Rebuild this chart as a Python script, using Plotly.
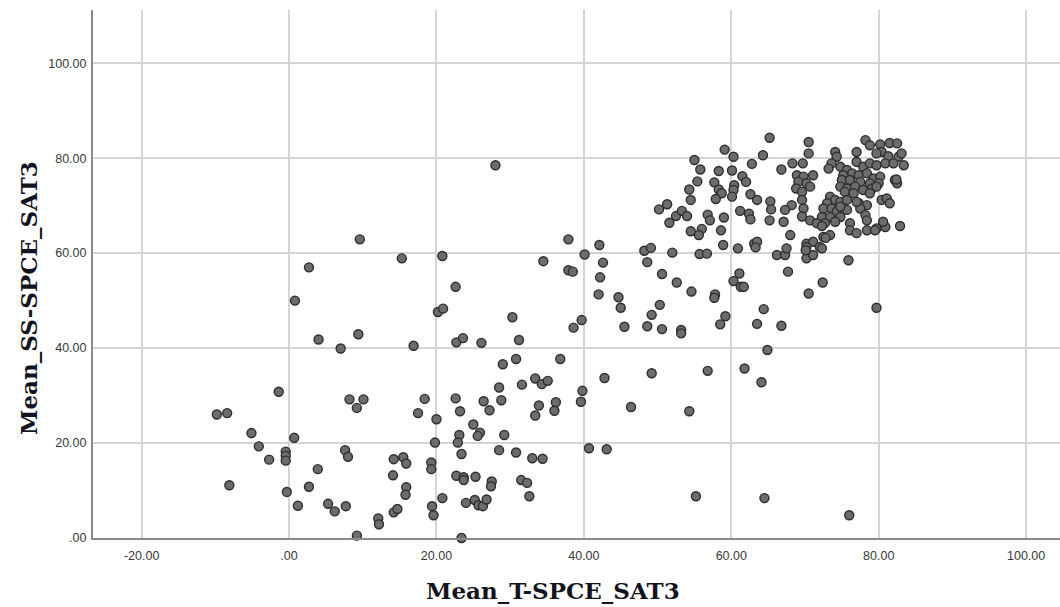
import plotly.graph_objects as go

# Each point: (Mean_T-SPCE_SAT3, Mean_SS-SPCE_SAT3), grouped by region of the chart
pts_left = [(-9.8,26.0),(-8.4,26.3),(-8.1,11.1),(-5.1,22.1),(-4.1,19.3),(-2.7,16.5),(-1.4,30.8),
            (-0.45,18.2),(-0.45,17.3),(-0.45,16.3),(-0.3,9.7),(0.7,21.1),(1.2,6.8),(2.7,10.8),(3.9,14.5),
            (5.3,7.2),(6.2,5.6),(7.7,6.7),(7.6,18.5),(8.0,17.1),(8.2,29.2),(10.1,29.2),(9.2,27.4),(7.0,39.9),
            (12.1,4.1),(12.2,2.9),(9.2,0.5),(0.8,50.0),(2.7,57.0),(4.0,41.8),(9.4,42.9),(9.6,62.9)]

pts_mid = [(14.2,16.6),(15.5,17.0),(15.9,15.7),(14.1,13.2),(15.9,10.7),(15.8,9.1),(14.2,5.4),(14.7,6.1),
           (19.3,15.9),(19.3,14.5),(19.4,6.7),(19.6,4.8),(20.8,8.4),(22.7,13.1),(23.7,12.8),(23.7,12.2),
           (24.0,7.4),(25.2,8.0),(25.7,6.9),(26.3,6.7),(26.8,8.1),(25.3,12.9),(23.4,0.0),(27.5,11.9),
           (27.4,10.9),(31.5,12.2),(32.3,11.6),(32.6,8.8),
           (18.4,29.3),(17.5,26.3),(22.6,29.4),(23.2,26.7),(20.0,25.0),(19.8,20.1),(23.1,21.7),(22.9,20.1),
           (23.4,17.7),(25.0,23.9),(25.9,22.2),(25.6,21.5),(29.2,21.7),(28.5,18.5),(30.8,18.0),(33.0,16.8),
           (34.4,16.7),(26.4,28.8),(27.2,26.9),(28.8,29.0),(28.5,31.7),(31.6,32.3),(33.4,33.6),(34.3,32.4),
           (35.1,33.1),(33.9,27.9),(33.4,25.8),(36.2,28.6),(36.0,26.8),(29.0,36.6),(30.8,37.7),(36.8,37.7),
           (31.2,41.7),(30.3,46.5),
           (15.3,58.9),(20.8,59.4),(22.6,52.9),(20.2,47.6),(20.9,48.3),(16.9,40.5),(22.7,41.2),(23.6,42.1),
           (26.1,41.1),(28.0,78.5),(34.5,58.3)]

pts_midright = [(37.9,62.9),(37.9,56.4),(38.5,56.1),(40.1,59.7),(42.1,61.7),(42.6,58.0),(42.2,54.9),
                (42.0,51.3),(44.7,50.7),(45.0,48.5),(45.5,44.5),(38.6,44.3),(39.7,45.9),(42.8,33.7),
                (39.8,31.0),(39.6,28.7),(40.7,18.9),(43.1,18.7),(46.4,27.6),(49.2,34.7),(54.3,26.7),(55.2,8.8),
                (48.2,60.5),(49.1,61.1),(48.6,58.1),(52.0,60.1),(50.6,55.6),(52.6,53.8),(54.6,51.9),
                (50.3,49.1),(49.2,47.0),(48.6,44.6),(50.6,44.0),(53.2,43.8),(53.2,43.1)]

pts_right_low = [(57.8,51.3),(57.7,50.6),(59.2,46.7),(58.5,45.0),(64.4,48.2),(63.5,45.1),(66.8,44.7),
                 (79.7,48.5),(64.9,39.6),(56.8,35.2),(61.8,35.7),(64.1,32.8),(64.5,8.4),(76.0,4.8),
                 (60.3,54.1),(61.1,55.7),(61.3,52.9),(61.7,52.9),(70.5,51.5),(72.4,53.8),(67.7,56.1)]

pts_upper = [(65.2,84.3),(59.1,81.8),(60.3,80.3),(64.3,80.6),(62.8,78.8),(55.0,79.6),(55.8,77.6),
             (58.3,77.3),(60.1,77.4),(61.5,76.2),(62.0,75.0),(55.4,75.1),(57.7,74.9),(58.3,73.4),
             (58.7,72.6),(57.9,71.4),(60.4,74.3),(60.3,73.3),(60.1,71.9),(54.3,73.4),(54.5,71.2),
             (51.3,70.3),(50.2,69.2),(52.5,67.8),(51.6,66.4),(53.3,68.9),(54.0,67.8),(56.8,68.1),
             (57.1,66.9),(54.5,64.6),(56.0,65.1),(55.6,63.8),(58.6,64.8),(59.0,67.5),(61.2,68.9),
             (62.4,68.3),(62.6,67.1),(62.6,72.4),(63.5,71.2),(58.9,61.7),(60.9,61.0),(63.1,62.0),
             (63.5,62.4),(63.3,61.2),(55.7,59.8),(56.7,59.9),(65.3,70.9),(65.4,69.2),(65.2,66.9)]

pts_cluster = [(70.5,83.4),(70.5,81.0),(66.8,77.6),(68.3,78.9),(69.7,78.9),(68.9,76.4),(69.8,76.1),
               (71.1,76.4),(69.1,75.0),(70.2,74.7),(68.8,73.6),(69.6,72.9),(70.7,74.0),(69.6,71.2),
               (68.2,70.1),(67.3,69.1),(69.8,69.4),(69.6,67.7),(67.1,66.6),(68.0,63.8),(70.2,62.0),
               (71.1,62.4),(72.0,61.3),(70.2,61.3),(66.2,59.6),(67.3,59.6),(67.5,61.0),(70.2,58.9),
               (71.1,59.6),(75.9,58.5),
               (78.2,83.8),(78.8,82.7),(80.2,82.9),(81.5,83.2),(82.5,83.1),(80.4,81.3),(74.1,81.3),
               (74.3,80.3),(77.0,81.3),(79.7,81.0),(81.3,80.4),(82.7,80.3),(83.4,78.5),(73.6,78.9),
               (73.2,77.8),(74.8,78.2),(75.7,77.5),(77.0,79.2),(77.9,78.2),(78.8,78.9),(79.7,78.5),
               (80.9,78.9),(82.0,78.9),(75.2,76.4),(76.4,76.8),(77.3,76.4),(78.4,76.8),(79.3,75.7),
               (80.2,76.1),(75.0,75.4),(76.1,75.4),(77.5,75.0),(78.8,74.7),(80.0,74.7),(82.2,75.4),
               (82.5,74.7),(74.8,74.0),(75.7,73.6),(76.8,74.0),(77.9,73.3),(79.1,73.6),(79.7,74.0),
               (75.4,72.9),(76.6,72.6),(78.8,72.6),(73.4,71.9),(74.1,71.2),(73.0,70.5),(74.8,70.8),
               (75.7,71.2),(77.3,70.5),(78.4,70.1),(80.4,71.2),(81.1,71.5),(81.5,70.5),(72.5,69.4),
               (73.6,69.4),(74.3,68.7),(75.7,69.1),(77.5,69.4),(78.2,68.0),(72.3,67.6),(73.4,67.6),
               (74.8,67.6),(70.7,66.9),(71.6,66.3),(72.7,66.3),(74.1,66.6),(76.1,66.3),(78.4,66.9),
               (80.6,66.3),(82.9,65.7),(76.1,64.8),(77.0,64.2),(78.4,64.8),(79.7,65.2),(80.9,65.5),
               (72.5,63.4),(73.4,63.8),(72.8,63.2),(72.3,61.0),(70.1,60.6),(72.3,65.7),(83.1,81.0),
               (82.4,75.5),(80.6,66.6),(79.5,64.8),(77.0,70.8),(74.8,69.8)]

x_ticks = [-20, 0, 20, 40, 60, 80, 100]
x_tick_labels = ["-20.00", ".00", "20.00", "40.00", "60.00", "80.00", "100.00"]
y_ticks = [0, 20, 40, 60, 80, 100]
y_tick_labels = [".00", "20.00", "40.00", "60.00", "80.00", "100.00"]

all_pts = pts_left + pts_mid + pts_midright + pts_right_low + pts_upper + pts_cluster
xs = [p[0] for p in all_pts]
ys = [p[1] for p in all_pts]

fig = go.Figure()
fig.add_trace(go.Scatter(
    x=xs, y=ys, mode="markers", cliponaxis=False, showlegend=False,
    marker=dict(size=9, color="#6c6c6c", line=dict(color="#2e2e2e", width=1.4)),
))

tick_font = dict(family="Liberation Sans, Arial, sans-serif", size=12.5, color="#383838")
fig.update_layout(
    width=1060, height=607,
    margin=dict(l=93, r=0, t=10, b=69),
    paper_bgcolor="white", plot_bgcolor="white",
    xaxis=dict(range=[-26.6, 104.6], tickvals=x_ticks, ticktext=x_tick_labels,
               showgrid=True, gridcolor="#d4d4d4", gridwidth=1.5, zeroline=False,
               showline=True, linecolor="#8a8a8a", linewidth=2, ticks="", ticklabelstandoff=5,
               tickfont=tick_font),
    yaxis=dict(range=[0, 111.2], tickvals=y_ticks, ticktext=y_tick_labels,
               showgrid=True, gridcolor="#d4d4d4", gridwidth=1.5, zeroline=False,
               showline=True, linecolor="#8a8a8a", linewidth=2, ticks="", ticklabelstandoff=2,
               tickfont=tick_font),
    annotations=[
        dict(text="<b>Mean_T-SPCE_SAT3</b>", xref="paper", yref="paper", x=0.4757, y=-0.0985,
             xanchor="center", yanchor="middle", showarrow=False,
             font=dict(family="DejaVu Serif", size=23, color="#141420")),
        dict(text="<b>Mean_SS-SPCE_SAT3</b>", xref="paper", yref="paper", x=-0.0672, y=0.4545,
             xanchor="center", yanchor="middle", showarrow=False, textangle=-90,
             font=dict(family="DejaVu Serif", size=23, color="#141420")),
    ],
)

fig.write_html("out.html")
